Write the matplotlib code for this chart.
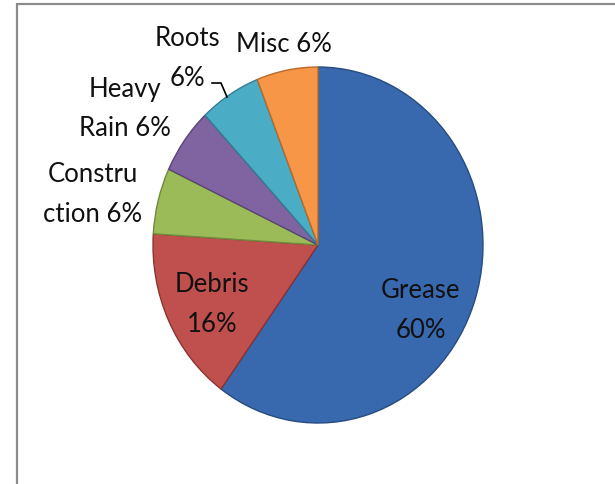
import matplotlib.pyplot as plt
from matplotlib.patches import Rectangle

categories = ["Grease", "Debris", "Construction", "Heavy Rain", "Roots", "Misc"]
values = [60, 16, 6, 6, 6, 6]
label_texts = ["Grease\n60%", "Debris\n16%", "Constru\nction 6%", "Heavy\nRain 6%", "Roots\n6%", "Misc 6%"]
colors = ["#3868ad", "#c0504d", "#9bbb59", "#8064a2", "#4bacc6", "#f79646"]
edges = ["#274c7e", "#8c3331", "#6f8a3c", "#5a4575", "#317f93", "#b86a28"]

W, H = 615, 484
fig = plt.figure(figsize=(W / 100, H / 100), dpi=100)
plt.rcParams['font.family'] = ['Lato', 'DejaVu Sans']

# grey frame (left and top edges show in the reference)
fig.patches.append(Rectangle((17 / W, -0.1), 1.2, (H - 4) / H + 0.1,
                             transform=fig.transFigure, fill=False,
                             edgecolor="#8c8c8c", linewidth=1.6))

# pie is slightly taller than wide in the reference
ax = fig.add_axes([153 / W, (H - 423) / H, 330 / W, 356 / H])
wedges, _ = ax.pie(values, colors=colors, startangle=90, counterclock=False,
                   wedgeprops=dict(linewidth=1.0))
for w, ec in zip(wedges, edges):
    w.set_edgecolor(ec)
ax.set_aspect('auto')
ax.set_xlim(-1, 1)
ax.set_ylim(-1, 1)
ax.axis('off')

# label positions in pixels (centre of text)
pos = [(421, 311), (212, 304), (93, 194), (125, 109), (187, 58), (284, 45)]
for t, (px, py) in zip(label_texts, pos):
    fig.text(px / W, 1 - py / H, t, ha='center', va='center', fontsize=18.5,
             color='#111111', linespacing=1.75)

# leader line for Roots
fig.lines.append(plt.Line2D([212 / W, 221 / W, 227 / W],
                            [1 - 83 / H, 1 - 83 / H, 1 - 97 / H],
                            transform=fig.transFigure, color='black', linewidth=1.2))

fig.savefig("out.png", dpi=100)
